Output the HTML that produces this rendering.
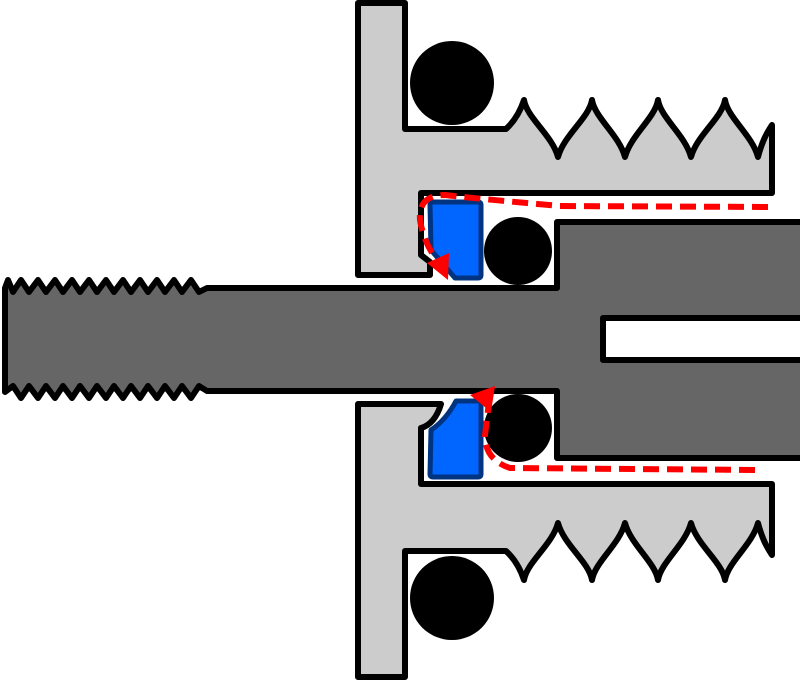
<!DOCTYPE html>
<html><head><meta charset="utf-8"><style>html,body{margin:0;padding:0;background:#fff}svg{display:block}</style></head>
<body>
<svg width="800" height="680" viewBox="0 0 800 680" xmlns="http://www.w3.org/2000/svg">
<!-- shaft -->
<path d="M5,288 L8,280 L13,292 L21,280 L29,292 L38,280 L46,292 L55,280 L63,292 L72,280 L80,292 L89,280 L97,292 L106,280 L114,292 L123,280 L131,292 L140,280 L148,292 L157,280 L165,292 L174,280 L182,292 L191,280 L199,292 L207,288 L557,288 L557,222 L806,222 L806,318 L603,318 L603,360 L806,360 L806,458 L557,458 L557,391 L207,391 L199,386 L191,398 L182,386 L174,398 L165,386 L157,398 L148,386 L140,398 L131,386 L123,398 L114,386 L106,398 L97,386 L89,398 L80,386 L72,398 L63,386 L55,398 L46,386 L38,398 L29,386 L21,398 L13,386 L5,392 Z" fill="#666" stroke="#000" stroke-width="6" stroke-linejoin="round"/>
<!-- top housing -->
<path d="M358,3 L405,3 L405,129 L506,129 Q518,118 524,100 C527,118 552,135 558,157 C564,135 589,118 592,100 C595,118 619,135 625,157 C631,135 655,118 658,100 C661,118 685,135 691,157 C697,135 722,118 725,100 C728,118 752,135 758,157 C762,142 766,134 772,125 L772,193 L421,193 L421,255 L430,262 L430,275 L358,275 Z" fill="#ccc" stroke="#000" stroke-width="6" stroke-linejoin="round"/>
<!-- bottom housing -->
<path d="M358,677 L405,677 L405,551 L506,551 Q518,562 524,580 C527,562 552,545 558,523 C564,545 589,562 592,580 C595,562 619,545 625,523 C631,545 655,562 658,580 C661,562 685,545 691,523 C697,545 722,562 725,580 C728,562 752,545 758,523 C762,538 766,546 772,555 L772,484 L421,484 L421,428 Q435,424 441,404 L358,404 Z" fill="#ccc" stroke="#000" stroke-width="6" stroke-linejoin="round"/>
<!-- o-rings -->
<circle cx="452" cy="83" r="42" fill="#000"/>
<circle cx="518" cy="251" r="34" fill="#000"/>
<circle cx="518" cy="428" r="34" fill="#000"/>
<circle cx="452" cy="598" r="42" fill="#000"/>
<!-- seals -->
<path d="M433,202 L478,202 Q481,202 481,205 L481,275 Q481,278 478,278 L455,278 L431,250 L430,205 Q430,202 433,202 Z" fill="#0066ff" stroke="#003380" stroke-width="5" stroke-linejoin="round"/>
<path d="M433,477 L478,477 Q481,477 481,474 L481,404 Q481,401 478,401 L456,401 Q446,420 431,430 L430,474 Q430,477 433,477 Z" fill="#0066ff" stroke="#003380" stroke-width="5" stroke-linejoin="round"/>
<!-- flow paths -->
<path d="M768,207 L560,206 Q470,198 445,195 Q418,195 420,220 Q424,245 440,264" fill="none" stroke="#f00" stroke-width="6" stroke-dasharray="16,8"/>
<polygon points="427,263 449,253 448,280" fill="#f00"/>
<path d="M755,470 L510,468 Q485,460 485,435 L489,402" fill="none" stroke="#f00" stroke-width="6" stroke-dasharray="16,8"/>
<polygon points="470,395 495,386 491,412" fill="#f00"/>
</svg>
</body></html>
